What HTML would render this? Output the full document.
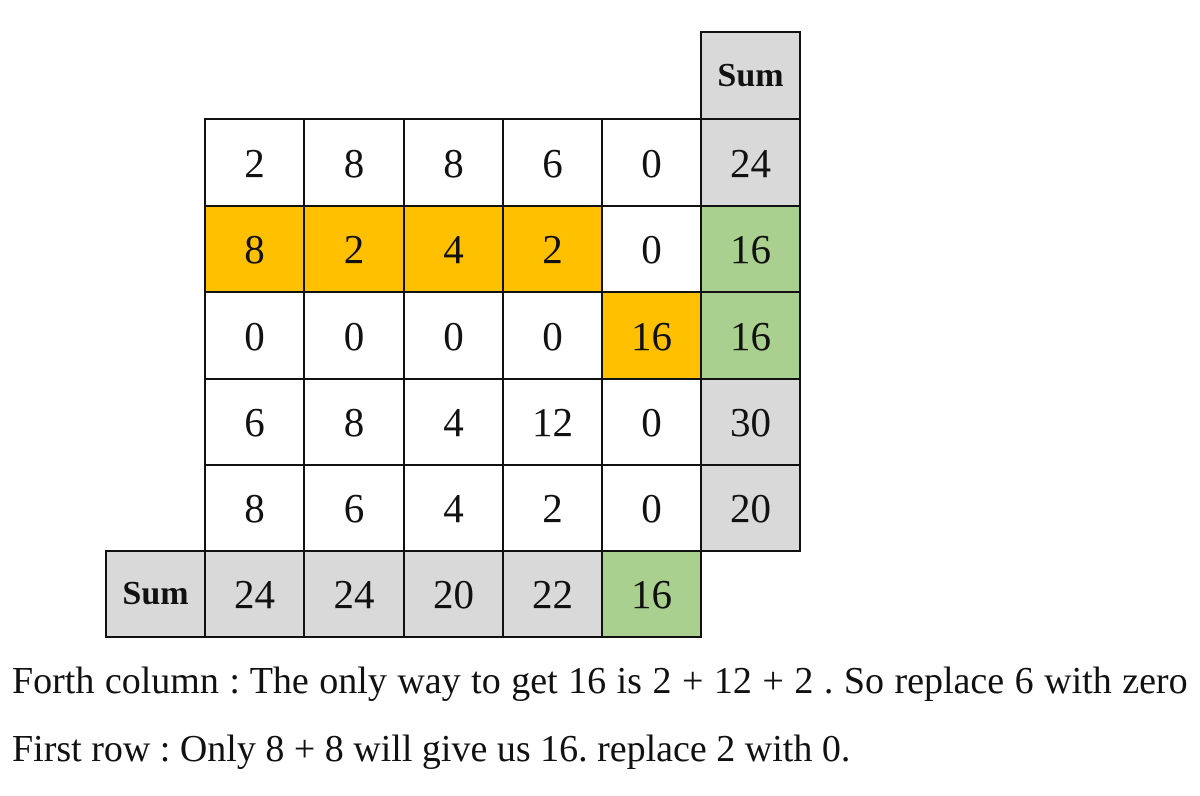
<!DOCTYPE html>
<html><head><meta charset="utf-8"><style>
body{margin:0;width:1200px;height:796px;background:#fff;position:relative;overflow:hidden;font-family:"Liberation Serif",serif}
.c{position:absolute;box-sizing:border-box;border:2px solid #111;display:flex;align-items:center;justify-content:center;font-size:41px;color:#111}
.b{font-weight:bold;font-size:34px}
.t{position:absolute;left:12px;font-size:38px;color:#111;white-space:nowrap}
</style></head><body>
<div id="grid"></div>
<div class="t" style="top:659px;word-spacing:1px">Forth column : The only way to get 16 is 2 + 12 + 2 . So replace 6 with zero</div>
<div class="t" style="top:727px">First row : Only 8 + 8 will give us 16. replace 2 with 0.</div>
<script>
const rows=[[2,8,8,6,0],[8,2,4,2,0],[0,0,0,0,16],[6,8,4,12,0],[8,6,4,2,0]];
const rowSums=[24,16,16,30,20];
const colSums=[24,24,20,22,16];
const highlights=[[1,0],[1,1],[1,2],[1,3],[2,4]];
const greenRows=[1,2];
const greenCols=[4];
const xs=[105,204,303,403,502,601,700,799];
const ys=[31,118,205,291,378,464,550,636];
const g=document.getElementById('grid');
function cell(ci,ri,txt,bg,bold,name){
  const d=document.createElement('div');
  d.className='c'+(bold?' b':'');
  d.style.left=xs[ci]+'px';d.style.top=ys[ri]+'px';
  d.style.width=(xs[ci+1]-xs[ci]+2)+'px';d.style.height=(ys[ri+1]-ys[ri]+2)+'px';
  d.style.background=bg;d.textContent=txt;
  
  
  g.appendChild(d);
}
const OR='#FFC000',GR='#A9D08E',GY='#D9D9D9';
cell(6,0,'Sum',GY,true,'sum-column-header');
rows.forEach((r,i)=>{
  r.forEach((v,j)=>{
    const hl=highlights.some(h=>h[0]===i&&h[1]===j);
    cell(j+1,i+1,v,hl?OR:'#fff',false,'cell-r'+(i+1)+'-c'+(j+1));
  });
  cell(6,i+1,rowSums[i],greenRows.includes(i)?GR:GY,false,'row-sum-'+(i+1));
});
cell(0,6,'Sum',GY,true,'sum-row-header');
colSums.forEach((v,j)=>cell(j+1,6,v,greenCols.includes(j)?GR:GY,false,'col-sum-'+(j+1)));
</script>
</body></html>
